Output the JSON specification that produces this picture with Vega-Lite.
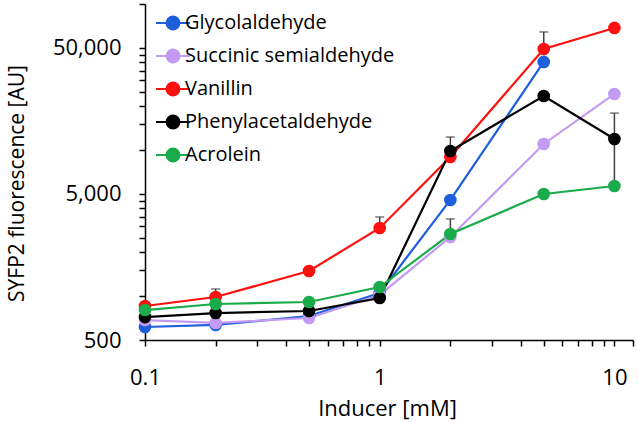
{
  "$schema": "https://vega.github.io/schema/vega-lite/v6.json",
  "width": 488,
  "height": 336,
  "autosize": {"type": "none"},
  "padding": {"left": 145, "top": 4, "right": 5, "bottom": 82},
  "background": "white",
  "config": {
    "view": {"stroke": null},
    "font": "Open Sans",
    "axis": {
      "grid": false,
      "domainColor": "black",
      "domainWidth": 1.5,
      "tickColor": "black",
      "tickWidth": 1.5,
      "tickSize": 6,
      "labelFontSize": 22,
      "labelColor": "black",
      "titleFontSize": 21,
      "titleFontWeight": "normal",
      "titleColor": "black"
    },
    "legend": {
      "title": null,
      "orient": "none",
      "legendX": 18,
      "legendY": 9,
      "symbolType": "M-2,0L2,0M-0.75,0A0.75,0.75,0,1,1,0.75,0A0.75,0.75,0,1,1,-0.75,0Z",
      "symbolSize": 289,
      "symbolStrokeWidth": 2.2,
      "symbolOpacity": 1,
      "labelFontSize": 20,
      "labelColor": "black",
      "labelOffset": 2,
      "rowPadding": 11,
      "labelLimit": 400
    }
  },
  "data": {
    "values": [
      {"series": "Glycolaldehyde", "x": 0.1, "y": 614},
      {"series": "Glycolaldehyde", "x": 0.2, "y": 634},
      {"series": "Glycolaldehyde", "x": 0.5, "y": 730},
      {"series": "Glycolaldehyde", "x": 1, "y": 1050},
      {"series": "Glycolaldehyde", "x": 2, "y": 4550},
      {"series": "Glycolaldehyde", "x": 5, "y": 40100},
      {"series": "Succinic semialdehyde", "x": 0.1, "y": 685},
      {"series": "Succinic semialdehyde", "x": 0.2, "y": 654},
      {"series": "Succinic semialdehyde", "x": 0.5, "y": 707},
      {"series": "Succinic semialdehyde", "x": 1, "y": 1017},
      {"series": "Succinic semialdehyde", "x": 2, "y": 2540},
      {"series": "Succinic semialdehyde", "x": 5, "y": 11000},
      {"series": "Succinic semialdehyde", "x": 10, "y": 24200},
      {"series": "Vanillin", "x": 0.1, "y": 855},
      {"series": "Vanillin", "x": 0.2, "y": 985, "err": 1118},
      {"series": "Vanillin", "x": 0.5, "y": 1485},
      {"series": "Vanillin", "x": 1, "y": 2925, "err": 3480},
      {"series": "Vanillin", "x": 2, "y": 8960},
      {"series": "Vanillin", "x": 5, "y": 49200, "err": 64350},
      {"series": "Vanillin", "x": 10, "y": 68550},
      {"series": "Phenylacetaldehyde", "x": 0.1, "y": 718},
      {"series": "Phenylacetaldehyde", "x": 0.2, "y": 765},
      {"series": "Phenylacetaldehyde", "x": 0.5, "y": 790},
      {"series": "Phenylacetaldehyde", "x": 1, "y": 970},
      {"series": "Phenylacetaldehyde", "x": 2, "y": 9850, "err": 12280},
      {"series": "Phenylacetaldehyde", "x": 5, "y": 23450},
      {"series": "Phenylacetaldehyde", "x": 10, "y": 11900, "err": 17900},
      {"series": "Acrolein", "x": 0.1, "y": 802},
      {"series": "Acrolein", "x": 0.2, "y": 882},
      {"series": "Acrolein", "x": 0.5, "y": 910},
      {"series": "Acrolein", "x": 1, "y": 1153},
      {"series": "Acrolein", "x": 2, "y": 2660, "err": 3372},
      {"series": "Acrolein", "x": 5, "y": 5000},
      {"series": "Acrolein", "x": 10, "y": 5670, "err": 11900}
    ]
  },
  "layer": [
    {
      "transform": [{"filter": "isValid(datum.err)"}],
      "mark": {"type": "rule", "color": "#404040", "strokeWidth": 1.5},
      "encoding": {
        "x": {"field": "x", "type": "quantitative", "scale": {"type": "log", "domain": [0.1, 12], "nice": false},
          "axis": {
            "title": "Inducer [mM]",
            "values": [0.1, 0.2, 0.3, 0.4, 0.5, 0.6, 0.7, 0.8, 0.9, 1, 2, 3, 4, 5, 6, 7, 8, 9, 10, 12],
            "labelExpr": "datum.value == 0.1 || datum.value == 1 || datum.value == 10 ? format(datum.value, '~g') : ''",
            "labelPadding": 21,
            "labelFlush": false,
            "labelOverlap": false,
            "titleFontSize": 22,
            "titleX": 242,
            "titleY": 68,
            "titleBaseline": "middle"
          }},
        "y": {"field": "y", "type": "quantitative", "scale": {"type": "log", "domain": [500, 100000], "nice": false},
          "axis": {
            "title": "SYFP2 fluorescence [AU]",
            "values": [500, 1000, 1500, 2000, 2500, 3000, 3500, 4000, 4500, 5000, 10000, 15000, 20000, 25000, 30000, 35000, 40000, 45000, 50000, 100000],
            "labelExpr": "datum.value == 500 || datum.value == 5000 || datum.value == 50000 ? format(datum.value, ',') : ''",
            "labelPadding": 18,
            "labelFlush": false,
            "labelOverlap": false,
            "titleX": -128,
            "titleY": 179,
            "titleBaseline": "middle",
            "titleAngle": -90
          }},
        "y2": {"field": "err"}
      }
    },
    {
      "transform": [{"filter": "isValid(datum.err)"}],
      "mark": {"type": "tick", "orient": "horizontal", "color": "#404040", "size": 9, "thickness": 1.5},
      "encoding": {
        "x": {"field": "x", "type": "quantitative"},
        "y": {"field": "err", "type": "quantitative"}
      }
    },
    {
      "mark": {"type": "line", "strokeWidth": 2.2},
      "encoding": {
        "x": {"field": "x", "type": "quantitative"},
        "y": {"field": "y", "type": "quantitative"},
        "color": {"field": "series", "type": "nominal",
          "scale": {"domain": ["Glycolaldehyde", "Succinic semialdehyde", "Vanillin", "Phenylacetaldehyde", "Acrolein"],
                    "range": ["#1E5FDB", "#C39BF2", "#FF1010", "#000000", "#1AAB4B"]}}
      }
    },
    {
      "mark": {"type": "point", "filled": true, "opacity": 1, "size": 160},
      "encoding": {
        "x": {"field": "x", "type": "quantitative"},
        "y": {"field": "y", "type": "quantitative"},
        "color": {"field": "series", "type": "nominal"}
      }
    }
  ]
}
